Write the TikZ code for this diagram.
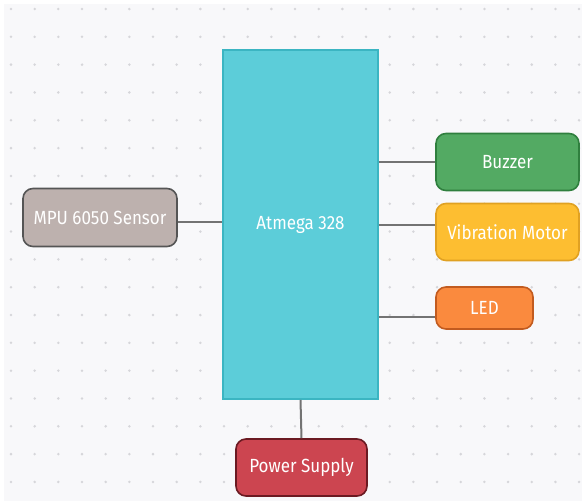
\documentclass[tikz,border=0pt]{standalone}
\usepackage{graphicx}
\usepackage{fontspec}
\setmainfont{Fira Sans}
\newcommand{\tallt}[1]{\scalebox{1}[1.12]{#1}}
\begin{document}
\begin{tikzpicture}[x=1pt,y=-1pt,
  blk/.style={draw, line width=1.6pt, rounded corners=10pt, text=white, inner sep=0pt,
    font=\fontsize{17}{20}\selectfont},
  wire/.style={draw=black!55, line width=2pt}]
\definecolor{bg}{HTML}{F8F8FA}
\definecolor{dotc}{HTML}{D6D6DA}
\definecolor{cyanF}{HTML}{5CCDD9}\definecolor{cyanD}{HTML}{3BB5C2}
\definecolor{mpuF}{HTML}{BDB1AE}\definecolor{mpuD}{HTML}{555555}
\definecolor{grnF}{HTML}{53AA63}\definecolor{grnD}{HTML}{2F7F3E}
\definecolor{yelF}{HTML}{FDBE31}\definecolor{yelD}{HTML}{E0A122}
\definecolor{orgF}{HTML}{FA8A3E}\definecolor{orgD}{HTML}{C25B1F}
\definecolor{redF}{HTML}{CC4550}\definecolor{redD}{HTML}{6B1A22}
\useasboundingbox (0,0) rectangle (582,501);
\fill[white] (0,0) rectangle (582,501);
\fill[bg] (4,4) rectangle (582,501);
\foreach \i in {0,...,24}{\foreach \j in {0,...,17}{
  \fill[dotc] ({11+\i*23.67},{9+\j*27.82}) circle (1.4);}}
% main block
\node[draw=cyanD, fill=cyanF, line width=1.6pt, minimum width=155pt, minimum height=349pt,
  inner sep=0pt, text=white, font=\fontsize{17}{20}\selectfont] (mcu) at (300.5,224.5) {\tallt{Atmega 328}};
\node[blk, draw=mpuD, fill=mpuF, minimum width=154pt, minimum height=58pt] (mpu) at (100,217.5) {\tallt{MPU 6050 Sensor}};
\node[blk, draw=grnD, fill=grnF, minimum width=143pt, minimum height=57pt] (buz) at (507.5,162) {\tallt{Buzzer}};
\node[blk, draw=yelD, fill=yelF, minimum width=143pt, minimum height=57pt] (vib) at (507.5,232) {\tallt{Vibration Motor}};
\node[blk, draw=orgD, fill=orgF, minimum width=97pt, minimum height=42pt] (led) at (484.5,308) {\tallt{LED}};
\node[blk, draw=redD, fill=redF, minimum width=131pt, minimum height=57pt] (pwr) at (301.5,467.5) {\tallt{Power Supply}};
% connectors
\coordinate (c1) at (mcu.east |- 0,162);
\coordinate (c2) at (mcu.east |- 0,225);
\coordinate (c3) at (mcu.east |- 0,317);
\coordinate (c4) at (mcu.west |- 0,221.5);
\draw[wire] (c1) -- (buz.west |- c1);
\draw[wire] (c2) -- (vib.west |- c2);
\draw[wire] (c3) -- (led.west |- c3);
\draw[wire] (mpu.east |- c4) -- (c4);
\draw[wire] (mcu.south) -- (pwr.north);
\end{tikzpicture}
\end{document}
